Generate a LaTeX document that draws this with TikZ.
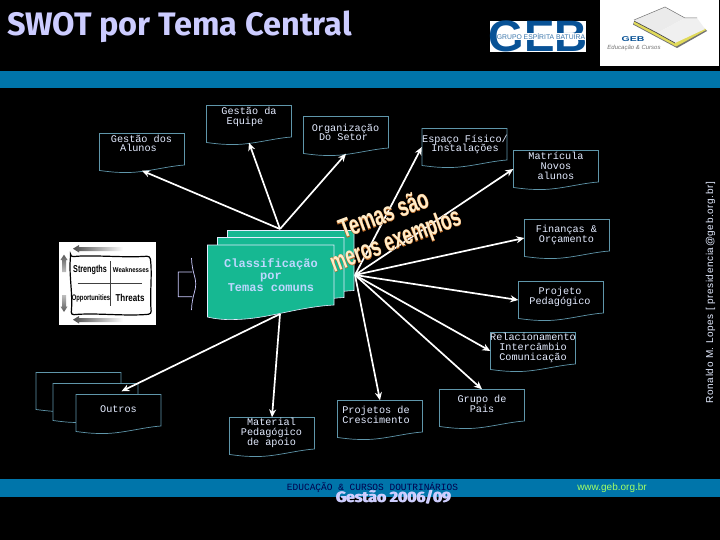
\documentclass[tikz,border=0pt]{standalone}
\usepackage{fontspec}
\setmainfont{Liberation Sans}
\setmonofont{Liberation Mono}
\newfontfamily\titlefont{Fira Sans}
\newfontfamily\sidefont[LetterSpace=6]{Liberation Sans}
\usetikzlibrary{arrows.meta,calc}
\definecolor{barblue}{RGB}{0,117,170}
\definecolor{lineblue}{RGB}{95,150,170}
\definecolor{boxtext}{RGB}{228,236,255}
\definecolor{tealfill}{RGB}{22,184,146}
\definecolor{tealtext}{RGB}{190,215,255}
\definecolor{lav}{RGB}{204,204,255}
\definecolor{cream}{RGB}{255,236,200}
\definecolor{burnt}{RGB}{180,100,35}
\definecolor{gebblue}{RGB}{8,82,150}
\tikzset{
  docnode/.style={inner sep=0pt,minimum width=85pt,minimum height=37pt},
  docline/.style={draw=lineblue,fill=black,line width=0.7pt},
  doctext/.style={anchor=north,align=center,text=boxtext,inner sep=0pt,font=\fontsize{10.2}{9.9}\selectfont\ttfamily},
  conn/.style={draw=white,line width=1.7pt,-{Stealth[length=8pt,width=7pt]}},
  tealsheet/.style={fill=tealfill,draw=boxtext,line width=0.6pt},
  tempart/.style={rotate=20.5,inner sep=0pt},
  swotword/.style={inner sep=0pt,text=black},
}
\newcommand\docbox[3]{%
  \begin{scope}[shift={(#2,#3)}]
  \draw[docline] (0,0) -- (85,0) -- (85,31.5)
    .. controls (65,33) and (45,39.5) .. (25,39)
    .. controls (15,39) and (8,38) .. (0,37) -- cycle;
  \node[docnode] (#1) at (42.5,18.5) {};
  \end{scope}
}
\newcommand\tealsheet[2]{%
  \begin{scope}[shift={(#1,#2)}]
  \path[tealsheet] (0,0) -- (126.5,0) -- (126.5,60)
    .. controls (90,62) and (60,74) .. (28,74.5)
    .. controls (18,75) and (8,74) .. (0,72) -- cycle;
  \end{scope}
}
\begin{document}
\begin{tikzpicture}[x=1pt,y=-1pt]
\useasboundingbox (0,0) rectangle (720,540);
\fill[black] (0,0) rectangle (720,540);
% bars
\fill[barblue] (0,71) rectangle (720,88);
\fill[barblue] (0,479) rectangle (720,496.7);
% title
\node[anchor=base west,inner sep=0pt,text=lav,font=\fontsize{32.5}{32.5}\selectfont\titlefont\bfseries] (title) at (7,35.5) {SWOT por Tema Central};
% GEB logo
\fill[white] (490,21) rectangle (586,52);
\node[inner sep=0pt,text=gebblue,font=\fontsize{44}{44}\selectfont\bfseries] (gebmark) at (538,36.5) {\scalebox{1.04}[1]{GEB}};
\fill[white] (497,33) rectangle (585,40.5);
\node[inner sep=0pt,text=gebblue!80!white,font=\fontsize{6.8}{7}\selectfont] (gebname) at (541,36.7) {GRUPO ESPÍRITA BATUÍRA};
% book logo
\fill[white] (600,0) rectangle (719,66);
\fill[black!55] (634,22) -- (633,24.5) -- (677,48) -- (707,31) -- (705,29) -- (676,43.5) -- cycle;
\fill[yellow!55!olive!60!white] (634,21) -- (634,24) -- (676,46.5) -- (706,30) -- (704,28) -- (675,42) -- cycle;
\fill[black!8] (634,20) -- (665,7) -- (685,18) -- (657,33) -- cycle;
\fill[black!6] (657,33) -- (685,18) -- (697,18) -- (705,29) -- (675,43) -- cycle;
\draw[black!55,line width=0.5pt] (634,20) -- (665,7) -- (685,18) -- (697,18);
\draw[black!70,line width=0.7pt] (634,21) -- (657,33) -- (675,43);
\node[inner sep=0pt,text=gebblue,font=\fontsize{7}{7}\selectfont\bfseries] (booklogo) at (633,39.5) {\scalebox{1.5}[1]{GEB}};
\node[inner sep=0pt,text=black!55,font=\fontsize{6}{6}\selectfont\rmfamily\itshape] (bookname) at (634,47.5) {Educação \& Cursos};
% hubs
\coordinate (hubT) at (280,229);
\coordinate (hubR) at (355,275);
\coordinate (hubB) at (280,314);
% document boxes
\docbox{ga}{99.5}{133.5}
\docbox{ge}{206.5}{105.5}
\docbox{os}{303.5}{116.5}
\docbox{ef}{422}{128.5}
\docbox{mn}{513.5}{150.5}
\docbox{fo}{524.5}{219.5}
\docbox{pp}{518.5}{281.5}
\docbox{ri}{490.5}{332.5}
\docbox{ob}{36}{372.5}
\docbox{om}{53}{383.5}
\docbox{ou}{76}{394.5}
\docbox{ma}{229.5}{417.5}
\docbox{pc}{337.5}{400.5}
\docbox{gp}{439.5}{389.5}
% connectors
\draw[conn] (hubT) -- (ga.south);
\draw[conn] (hubT) -- (ge.south);
\draw[conn] (hubT) -- (os.south);
\draw[conn] (hubR) -- (ef.west);
\draw[conn] (hubR) -- (mn.west);
\draw[conn] (hubR) -- (fo.west);
\draw[conn] (hubR) -- (pp.west);
\draw[conn] (hubR) -- (ri.west);
\draw[conn] (hubR) -- (gp.north);
\draw[conn] (hubR) -- (pc.north);
\draw[conn] (hubB) -- ([xshift=3pt,yshift=3pt]ou.north);
\draw[conn] (hubB) -- (ma.north);
% box labels
\node[doctext] (gat) at (141.5,134.5) {Gestão dos\\Alunos\hspace*{6pt}};
\node[doctext] (get) at (249,107) {Gestão da\\Equipe\hspace*{8pt}};
\node[doctext] (ost) at (345.5,123.5) {Organização\\Do Setor\hspace*{4pt}};
\node[doctext] (eft) at (465,134.5) {Espaço Físico/\\Instalações};
\node[doctext] (mnt) at (556,152) {Matrícula\\Novos\\alunos};
\node[doctext] (fot) at (566.5,225) {Finanças \&\\Orçamento};
\node[doctext] (ppt) at (560,287) {Projeto\\Pedagógico};
\node[doctext] (rit) at (533,333) {Relacionamento\\Intercâmbio\\Comunicação};
\node[doctext] (out) at (118.5,405) {Outros};
\node[doctext] (mat) at (271.5,418) {Material\\Pedagógico\\de apoio};
\node[doctext] (pct) at (376,406) {Projetos de\\Crescimento};
\node[doctext] (gpt) at (482,395) {Grupo de\\Pais};
% teal stack
\tealsheet{227.5}{230.5}
\tealsheet{217.5}{237.5}
\tealsheet{207.5}{245}
\node[inner sep=0pt,align=center,text=tealtext,font=\fontsize{12}{12}\selectfont\ttfamily\bfseries] (teal) at (271,275.5) {Classificação\\por\\Temas comuns};
% big arrow to the stack
\draw[lav,line width=0.7pt] (192,272) -- (178.3,272) -- (178.3,296.7) -- (192,296.7) (191.5,258) .. controls (192,272) and (195.7,276) .. (195.7,284) .. controls (195.7,292) and (192,296) .. (191.5,310);
% overlay words
\foreach \wid/\col in {2.4/burnt,0/cream}{
  \node[tempart,text=\col] (tema\wid) at (383.5,213.5) {\fontsize{27}{27}\selectfont\bfseries\scalebox{0.68}[1]{\ifdim\wid pt>0pt\addfontfeature{FakeBold=\wid}\fi Temas são}};
  \node[tempart,text=\col] (mero\wid) at (396,241.5) {\fontsize{27}{27}\selectfont\bfseries\scalebox{0.645}[1]{\ifdim\wid pt>0pt\addfontfeature{FakeBold=\wid}\fi meros exemplos}};
}
% swot image
\fill[white] (59,242) rectangle (156,325);
\draw[black,line width=1.2pt,rounded corners=3pt] (70.5,257) .. controls (90,254.5) and (125,258) .. (150,256) .. controls (152.5,275) and (149.5,295) .. (151.5,314) .. controls (125,316.5) and (95,312.5) .. (71,315) .. controls (73,295) and (69,275) .. (70.5,257) -- cycle;
\draw[black!75,line width=0.7pt] (110.7,261) -- (110.7,306);
\draw[black!75,line width=0.7pt] (77.7,283.7) -- (142,283.7);
\node[swotword,font=\fontsize{10}{10}\selectfont\bfseries] (st) at (90,270) {\scalebox{0.72}[1]{Strengths}};
\node[swotword,font=\fontsize{7}{7}\selectfont\bfseries] (we) at (131,270) {\scalebox{0.86}[1]{Weaknesses}};
\node[swotword,font=\fontsize{8}{8}\selectfont\bfseries] (op) at (91,298) {\scalebox{0.73}[1]{Opportunities}};
\node[swotword,font=\fontsize{10}{10}\selectfont\bfseries] (th) at (130,298) {\scalebox{0.8}[1]{Threats}};
\shade[left color=black!70,right color=white] (73,248.7) -- (79,245) -- (79,247) -- (123,247) -- (123,251) -- (79,251) -- (79,252.5) -- cycle;
\shade[left color=black!70,right color=white] (73,319.7) -- (79,316) -- (79,318) -- (123,318) -- (123,322) -- (79,322) -- (79,323.5) -- cycle;
\shade[top color=black!65,bottom color=black!25] (64,254.7) -- (67.5,260) -- (66,260) -- (66,272) -- (62,272) -- (62,260) -- (60.5,260) -- cycle;
\shade[top color=black!25,bottom color=black!65] (64,312) -- (67.5,306.5) -- (66,306.5) -- (66,295) -- (62,295) -- (62,306.5) -- (60.5,306.5) -- cycle;
% footer
\node[inner sep=0pt,text=black!50!blue!60!black,font=\fontsize{9.5}{9.5}\selectfont\ttfamily] (edu) at (372.5,488) {EDUCAÇÃO \& CURSOS DOUTRINÁRIOS};
\node[inner sep=0pt,text=lav!70!white,font=\fontsize{15}{15}\selectfont\titlefont\bfseries] (ges2) at (394,497.5) {\scalebox{1.05}[1]{Gestão 2006/09}};
\node[inner sep=0pt,text=lav,font=\fontsize{15}{15}\selectfont\titlefont\bfseries] (ges) at (393,497.5) {\scalebox{1.05}[1]{Gestão 2006/09}};
\node[inner sep=0pt,text=green!60!yellow!60!white,font=\fontsize{10}{10}\selectfont] (www) at (612,488) {www.geb.org.br};
% side credit
\node[rotate=90,inner sep=0pt,text=boxtext,font=\fontsize{10}{10}\selectfont\sidefont] (side) at (710.5,292.5) {Ronaldo M. Lopes [ presidencia@geb.org.br]};
\end{tikzpicture}
\end{document}
